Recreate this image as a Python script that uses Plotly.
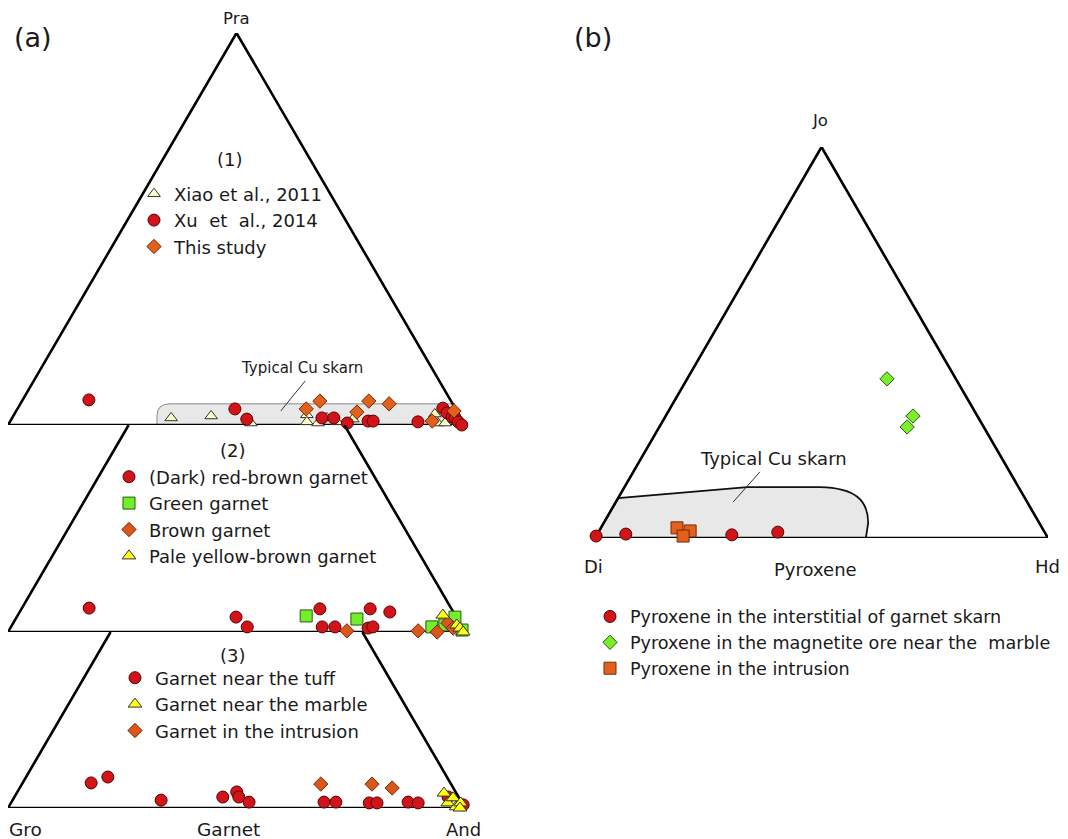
import plotly.graph_objects as go

# page is rendered with an 8px body margin: figure spans page pixels 8..1068 x 8..839
OFF = 8
FW, FH = 1060, 831
FONT = "DejaVu Sans"
TXT = "#1a1a1a"

# ---------------- DATA (ternary compositions, mol%) ----------------
# Panel (a): Gro (left) - And (right) - Pra (apex); Gro = 100 - And - Pra
# (1) literature compilation
p1_xiao_and = [34.8, 43.3, 52.9, 64.1, 65.0, 67.6, 68.9, 71.6, 74.7, 92.0, 93.8, 95.4]
p1_xiao_pra = [1.8, 2.3, 0.5, 2.6, 0.8, 0.5, 1.8, 0.8, 1.5, 2.8, 0.5, 0.5]
p1_xu_and = [14.5, 47.6, 51.5, 67.8, 70.4, 74.0, 78.3, 79.4, 89.3, 93.0, 94.5, 96.2, 96.9, 98.1, 99.3]
p1_xu_pra = [6.4, 4.1, 1.5, 1.8, 1.8, 0.5, 1.0, 1.0, 0.8, 4.3, 3.1, 2.0, 1.8, 0.8, 0.0]
p1_this_and = [65.2, 63.2, 75.9, 80.7, 74.7, 92.3, 95.8]
p1_this_pra = [6.1, 4.1, 6.1, 5.4, 3.3, 1.0, 3.6]

# (2) by garnet colour
p2_red_and = [14.7, 48.0, 51.7, 65.3, 68.1, 70.9, 76.3, 78.3, 79.2, 81.0]
p2_red_pra = [6.1, 3.8, 1.3, 5.9, 1.3, 1.3, 5.9, 1.0, 1.3, 5.1]
p2_green_and = [63.2, 74.7, 92.1, 94.7, 95.9, 99.1]
p2_green_pra = [4.1, 3.3, 1.3, 1.8, 3.8, 0.5]
p2_brown_and = [74.0, 89.6, 93.9, 95.1, 96.9]
p2_brown_pra = [0.3, 0.3, 0.0, 2.3, 1.0]
p2_pale_and = [93.0, 97.3, 98.4, 99.6]
p2_pale_pra = [4.3, 1.8, 1.0, 0.0]

# (3) by occurrence
p3_tuff_and = [15.0, 17.9, 32.5, 45.6, 48.0, 49.1, 52.0, 68.4, 71.0, 78.4, 80.1, 86.8, 89.1, 94.9, 99.2]
p3_tuff_pra = [6.4, 7.9, 2.0, 2.8, 4.1, 2.8, 1.5, 1.5, 1.5, 1.3, 1.3, 1.5, 1.3, 2.8, 0.8]
p3_marble_and = [93.5, 95.6, 96.1, 97.9, 98.4, 98.9]
p3_marble_pra = [3.8, 1.3, 2.6, 0.3, 1.3, 0.0]
p3_intr_and = [65.4, 76.6, 81.5]
p3_intr_pra = [6.1, 6.1, 5.1]

# Panel (b): Di (left) - Hd (right) - Jo (apex)
pb_inter_hd = [0.0, 6.3, 29.8, 39.6]
pb_inter_jo = [0.5, 1.0, 0.8, 1.5]
pb_mag_hd = [44.1, 54.6, 54.7]
pb_mag_jo = [40.7, 31.2, 28.4]
pb_intr_hd = [16.8, 20.1, 19.2]
pb_intr_jo = [2.6, 1.8, 0.5]

# Typical Cu skarn fields (cartesian triangle units: x 0-100 along base, y = apex %)
cu_a_x = [32.6, 32.6, 35.4, 97.3, 100.0]
cu_a_y = [0.0, 2.3, 5.4, 5.4, 0.0]
cu_b_x = [0.0, 5.1, 33.6, 49.7, 57.4, 60.3, 60.3, 59.8]
cu_b_y = [0.0, 10.2, 13.0, 13.0, 12.8, 9.7, 3.8, 0.0]

# ---------------- helpers ----------------
def tx(right, apex):
    return [r + a / 2.0 for r, a in zip(right, apex)]

def px(x):
    return (x - OFF) / FW

def py(y):
    return 1 - (y - OFF) / FH

RED = "#d0141a"
fig = go.Figure()

def add(xs_r, xs_a, name, sym, size, fill, line, axis, legend):
    fig.add_trace(go.Scatter(
        x=tx(xs_r, xs_a), y=xs_a, mode="markers", name=name,
        marker=dict(symbol=sym, size=size, color=fill, line=dict(color=line, width=1)),
        xaxis="x" + axis if axis != "1" else "x",
        yaxis="y" + axis if axis != "1" else "y",
        legend=legend, cliponaxis=False))

# panel 1
add(p1_xiao_and, p1_xiao_pra, "Xiao et al., 2011", "triangle-up", 11, "#ffffc4", "#333333", "1", "legend")
add(p1_xu_and, p1_xu_pra, "Xu  et  al., 2014", "circle", 12, RED, "#5a0000", "1", "legend")
add(p1_this_and, p1_this_pra, "This study", "diamond", 11, "#e0601e", "#7a2a00", "1", "legend")
# panel 2
add(p2_red_and, p2_red_pra, "(Dark) red-brown garnet", "circle", 12, RED, "#5a0000", "2", "legend2")
add(p2_green_and, p2_green_pra, "Green garnet", "square", 12, "#72ee2a", "#2a5a10", "2", "legend2")
add(p2_brown_and, p2_brown_pra, "Brown garnet", "diamond", 11, "#d9561c", "#7a2a00", "2", "legend2")
add(p2_pale_and, p2_pale_pra, "Pale yellow-brown garnet", "triangle-up", 12, "#ffff10", "#333333", "2", "legend2")
# panel 3
add(p3_tuff_and, p3_tuff_pra, "Garnet near the tuff", "circle", 12, RED, "#5a0000", "3", "legend3")
add(p3_marble_and, p3_marble_pra, "Garnet near the marble", "triangle-up", 12, "#ffff10", "#333333", "3", "legend3")
add(p3_intr_and, p3_intr_pra, "Garnet in the intrusion", "diamond", 11, "#d9561c", "#7a2a00", "3", "legend3")
# panel b
add(pb_inter_hd, pb_inter_jo, "Pyroxene in the interstitial of garnet skarn", "circle", 12, RED, "#5a0000", "4", "legend4")
add(pb_mag_hd, pb_mag_jo, "Pyroxene in the magnetite ore near the  marble", "diamond", 11, "#7aee2a", "#2a5a10", "4", "legend4")
add(pb_intr_hd, pb_intr_jo, "Pyroxene in the intrusion", "square", 12, "#e2611e", "#7a2a00", "4", "legend4")

# ---------------- axes ----------------
ax = dict(visible=False, fixedrange=True, showgrid=False, zeroline=False)
ya2_top = (632 - 425) / 392 * 100
ya3_top = (808 - 632) / 392 * 100
fig.update_layout(
    xaxis=dict(domain=[px(8), px(465)], range=[0, 100], **ax),
    yaxis=dict(domain=[py(425), py(33)], range=[0, 100], **ax),
    xaxis2=dict(domain=[px(8), px(465)], range=[0, 100], **ax),
    yaxis2=dict(domain=[py(632), py(425)], range=[0, ya2_top], **ax),
    xaxis3=dict(domain=[px(8), px(465)], range=[0, 100], **ax),
    yaxis3=dict(domain=[py(808), py(632)], range=[0, ya3_top], **ax),
    xaxis4=dict(domain=[px(595), px(1048)], range=[0, 100], **ax),
    yaxis4=dict(domain=[py(538), py(147)], range=[0, 100], **ax),
)

# ---------------- shapes ----------------
def poly_path(xs, ys, close=True):
    p = "M " + " L ".join(f"{x},{y}" for x, y in zip(xs, ys))
    return p + (" Z" if close else "")

shapes = []
cu_a_path = (f"M {cu_a_x[0]},{cu_a_y[0]} L {cu_a_x[1]},{cu_a_y[1]} "
             f"Q {cu_a_x[1]},{cu_a_y[2]} {cu_a_x[2]},{cu_a_y[2]} "
             f"L {cu_a_x[3]},{cu_a_y[3]} L {cu_a_x[4]},{cu_a_y[4]} Z")
shapes.append(dict(type="path", path=cu_a_path, xref="x", yref="y", layer="below",
                   fillcolor="#e8e8e8", line=dict(color="#8a8a8a", width=1)))
cu_b_path = (f"M {cu_b_x[0]},{cu_b_y[0]} L {cu_b_x[1]},{cu_b_y[1]} "
             f"L {cu_b_x[2]},{cu_b_y[2]} L {cu_b_x[3]},{cu_b_y[3]} "
             f"C {cu_b_x[4]},{cu_b_y[4]} {cu_b_x[5]},{cu_b_y[5]} {cu_b_x[6]},{cu_b_y[6]} "
             f"L {cu_b_x[7]},{cu_b_y[7]} Z")
shapes.append(dict(type="path", path=cu_b_path, xref="x4", yref="y4", layer="below",
                   fillcolor="#e8e8e8", line=dict(color="#111111", width=1.8)))

LW = 2.6
shapes.append(dict(type="path", path=poly_path([0, 50, 100], [0, 100, 0]), xref="x", yref="y",
                   line=dict(color="black", width=LW), layer="below"))
shapes.append(dict(type="path", path=poly_path([ya2_top / 2, 0, 100, 100 - ya2_top / 2], [ya2_top, 0, 0, ya2_top], close=False),
                   xref="x2", yref="y2", line=dict(color="black", width=LW), layer="below"))
shapes.append(dict(type="path", path=poly_path([ya3_top / 2, 0, 100, 100 - ya3_top / 2], [ya3_top, 0, 0, ya3_top], close=False),
                   xref="x3", yref="y3", line=dict(color="black", width=LW), layer="below"))
shapes.append(dict(type="path", path=poly_path([0, 50, 100], [0, 100, 0]), xref="x4", yref="y4",
                   line=dict(color="black", width=LW), layer="below"))
shapes.append(dict(type="line", x0=65.0, y0=11.2, x1=59.7, y1=3.6, xref="x", yref="y",
                   line=dict(color="#333333", width=1)))
shapes.append(dict(type="line", x0=36.4, y0=16.9, x1=30.5, y1=9.2, xref="x4", yref="y4",
                   line=dict(color="#333333", width=1)))
fig.update_layout(shapes=shapes)

# ---------------- text ----------------
def ann(text, x, y, size, anchor="center"):
    return dict(text=text, x=px(x), y=py(y), xref="paper", yref="paper", showarrow=False,
                xanchor=anchor, yanchor="middle", font=dict(family=FONT, size=size, color=TXT))

anns = [
    ann("(a)", 33, 38, 27), ann("(b)", 593, 38, 27),
    ann("Pra", 236, 18, 16.5), ann("Jo", 820, 121, 16.5),
    ann("Gro", 25, 829, 18.5), ann("Garnet", 228, 829, 18.5), ann("And", 463, 829, 18),
    ann("Di", 593, 566, 18), ann("Pyroxene", 815, 569, 18), ann("Hd", 1047, 566, 18),
    ann("(1)", 230, 160, 18), ann("(2)", 233, 450, 18), ann("(3)", 233, 655, 18),
    ann("Typical Cu skarn", 302, 368, 15), ann("Typical Cu skarn", 773, 458, 18),
]
fig.update_layout(annotations=anns)

def leg(x, y, size):
    return dict(x=px(x), y=py(y), xref="paper", yref="paper", xanchor="left", yanchor="top",
                bgcolor="rgba(0,0,0,0)", borderwidth=0, tracegroupgap=0, itemwidth=30,
                font=dict(family=FONT, size=size, color=TXT), itemclick=False, itemdoubleclick=False)

fig.update_layout(
    legend=leg(134, 175.5, 18),
    legend2=leg(109, 458.5, 18),
    legend3=leg(115, 659.5, 18),
    legend4=leg(590, 598.5, 17.6),
    showlegend=True,
    width=FW, height=FH,
    margin=dict(l=0, r=0, t=0, b=0),
    paper_bgcolor="white", plot_bgcolor="rgba(0,0,0,0)",
    font=dict(family=FONT, color=TXT),
)

fig.write_html("out.html")
